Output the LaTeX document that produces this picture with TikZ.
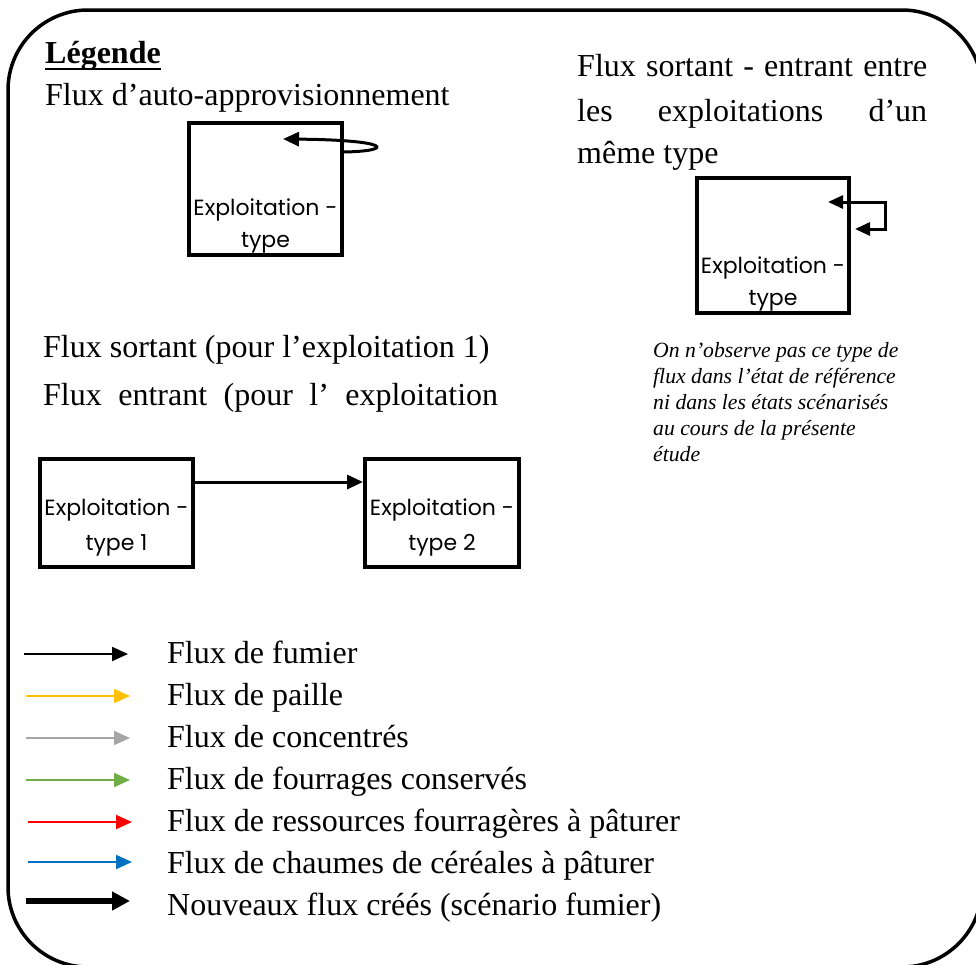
\documentclass[tikz,border=0pt]{standalone}
\usepackage{fontspec}
\setmainfont{Liberation Serif}
\newfontfamily\boxfont{Poppins}
\usetikzlibrary{arrows.meta}

\definecolor{fyellow}{HTML}{FFC000}
\definecolor{fgray}{HTML}{A6A6A6}
\definecolor{fgreen}{HTML}{70AD47}
\definecolor{fred}{HTML}{FF0000}
\definecolor{fblue}{HTML}{0070C0}

\begin{document}
\begin{tikzpicture}[x=1pt,y=-1pt,
  frame/.style={line width=3.5pt, rounded corners=80pt},
  expbox/.style={draw, line width=4pt, inner sep=0pt},
  boxtxt/.style={font=\boxfont\fontsize{22}{26}\selectfont, inner sep=0pt, anchor=base},
  serif/.style={font=\fontsize{32}{41}\selectfont, inner sep=0pt, anchor=base west},
  note/.style={font=\itshape\fontsize{21.7}{26}\selectfont, inner sep=0pt, anchor=base west},
  flow/.style={line width=3pt, -{Triangle[length=16pt,width=14pt]}},
  twoway/.style={line width=3pt, {Triangle[length=15pt,width=13pt]}-{Triangle[length=15pt,width=13pt]}},
  legarrow/.style={line width=2pt, -{Triangle[length=16pt,width=14pt]}},
  newarrow/.style={line width=6pt, -{Triangle[length=18pt,width=18pt]}}
]
\useasboundingbox (0,0) rectangle (976,964);

% outer frame
\draw[frame] (8,10) rectangle (982,967);

% heading
\node[serif] (leg) at (45,63) {\bfseries Légende};
\draw[line width=2.5pt] ([yshift=-6pt]leg.base west) -- ([yshift=-6pt]leg.base east);

% self-supply flow
\node[serif] (auto) at (45,105) {Flux d’auto-approvisionnement};
\node[expbox, minimum width=153pt, minimum height=132pt] (box1) at (265.5,189) {};
\node[boxtxt] (box1a) at (265.5,215) {Exploitation -};
\node[boxtxt] (box1b) at (265.5,247) {type};
\coordinate (loop1) at (283,139);
\draw[flow] ([yshift=37pt]box1.east) .. controls (395,151) and (392,140) .. (loop1);

% flows between farms of the same type
\node[serif] (r1) at (577,76) {\makebox[350pt][s]{Flux sortant - entrant entre}};
\node[serif] (r2) at (577,121) {\makebox[350pt][s]{les exploitations d’un}};
\node[serif] (r3) at (577,163) {même type};
\node[expbox, minimum width=152pt, minimum height=135pt] (box2) at (773,245.5) {};
\node[boxtxt] (box2a) at (773,273) {Exploitation -};
\node[boxtxt] (box2b) at (773,305) {type};
\coordinate (loop2a) at (855,229);
\coordinate (loop2b) at (828,202);
\draw[twoway] (loop2a) -- (885,229) -- (885,202) -- (loop2b);

% note
\foreach \txt [count=\i] in {On n’observe pas ce type de,
  flux dans l’état de référence,
  ni dans les états scénarisés,
  au cours de la présente,
  étude}
  \node[note] (note\i) at (653,{357+26*(\i-1)}) {\txt};

% outgoing / incoming flows
\node[serif] (out) at (43,357) {Flux sortant (pour l’exploitation 1)};
\node[serif] (in) at (43,405) {\makebox[455pt][s]{Flux entrant (pour l’ exploitation}};
\node[expbox, minimum width=153pt, minimum height=108pt] (box3) at (116.5,513) {};
\node[boxtxt] (box3a) at (116.5,515) {Exploitation -};
\node[boxtxt] (box3b) at (116.5,550) {type 1};
\node[expbox, minimum width=154pt, minimum height=108pt] (box4) at (442,513) {};
\node[boxtxt] (box4a) at (442,515) {Exploitation -};
\node[boxtxt] (box4b) at (442,550) {type 2};
\draw[flow] ([yshift=31pt]box3.east) -- ([yshift=31pt]box4.west);

% colour key
\foreach \col/\yy/\xs [count=\i] in {black/654/24, fyellow/696/26, fgray/738/26,
    fgreen/780/26, fred/822/28, fblue/862/28} {
  \coordinate (k\i s) at (\xs,\yy);
  \coordinate (k\i e) at (\xs+104,\yy);
  \draw[legarrow, draw=\col] (k\i s) -- (k\i e);
}
\coordinate (k7s) at (26,901);
\coordinate (k7e) at (130,901);
\draw[newarrow] (k7s) -- (k7e);

\foreach \lbl [count=\i] in {Flux de fumier, Flux de paille, Flux de concentrés,
  Flux de fourrages conservés, Flux de ressources fourragères à pâturer,
  Flux de chaumes de céréales à pâturer, Nouveaux flux créés (scénario fumier)}
  \node[serif] (lab\i) at (167,{663+42*(\i-1)}) {\lbl};
\end{tikzpicture}
\end{document}
